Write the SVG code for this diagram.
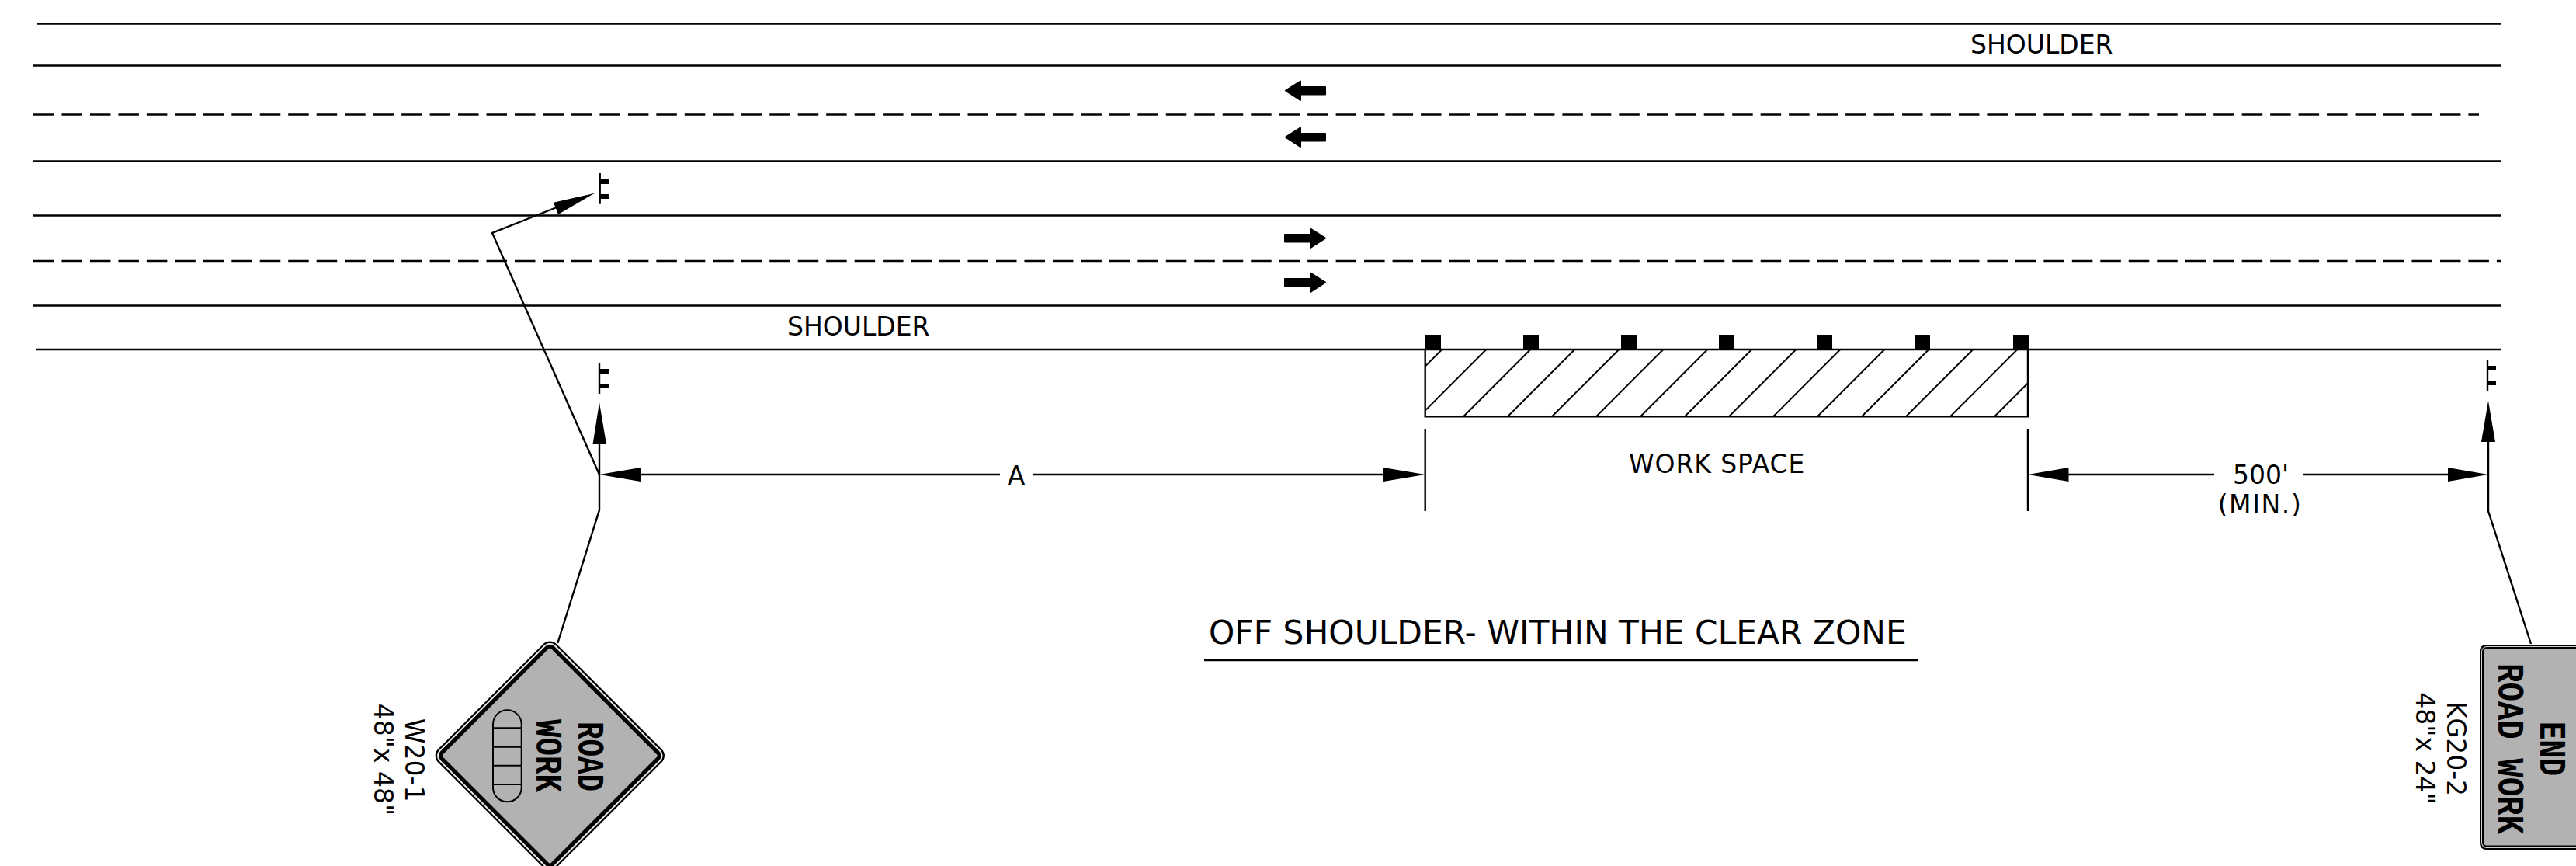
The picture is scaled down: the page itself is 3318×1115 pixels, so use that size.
<svg xmlns="http://www.w3.org/2000/svg" width="3318" height="1115" viewBox="0 0 3318 1115">
<style>
.l{stroke:#000;stroke-width:2.4;fill:none}
.d{stroke:#000;stroke-width:2.4;fill:none;stroke-dasharray:26.5 9.97}
.h{stroke:#000;stroke-width:2;fill:none}
.f{fill:#000;stroke:none}
.a{fill:#000;stroke:#000;stroke-width:2;stroke-linejoin:round}
.t{font-family:"DejaVu Sans",sans-serif;font-size:33px;fill:#000}
.m{text-anchor:middle}
.s{font-family:"Liberation Mono",monospace;font-weight:bold;fill:#000;text-anchor:middle}
.g{fill:#b2b2b2}
</style>
<rect width="3318" height="1115" fill="#fff"/>
<g id="road">
<path class="l" d="M48 30.5H3222M43 84.5H3222M43 207.5H3222M43 277.5H3222M43 393.5H3222M46 450H3221"/>
<path class="d" d="M43 147.5H3193M43 336H3222"/>
<path class="a" d="M1656 116.7L1675 104.5L1675 112H1707V121.5H1675L1675 129Z"/>
<path class="a" d="M1656 176.7L1675 164.5L1675 172H1707V181.5H1675L1675 189Z"/>
<path class="a" d="M1707 306.7L1688 294.5L1688 302H1655V311.5H1688L1688 319Z"/>
<path class="a" d="M1707 363.7L1688 351.5L1688 359H1655V368.5H1688L1688 376Z"/>
<text class="t" x="2538" y="69">SHOULDER</text>
<text class="t" x="1014" y="432">SHOULDER</text>
</g>
<g id="work-space">
<path class="l" d="M1835.7 450V536.3H2612V450"/>
<path class="h" d="M1857.3 450L1835.7 471.6M1914.3 450L1835.7 528.6M1971.3 450L1885 536.3M2028.3 450L1942 536.3M2085.3 450L1999 536.3M2142.3 450L2056 536.3M2199.3 450L2113 536.3M2256.3 450L2170 536.3M2313.3 450L2227 536.3M2370.3 450L2284 536.3M2427.3 450L2341 536.3M2484.3 450L2398 536.3M2541.3 450L2455 536.3M2598.3 450L2512 536.3M2612 493.3L2569 536.3"/>
<rect class="f" x="1836" y="431" width="20" height="20"/>
<rect class="f" x="1962" y="431" width="20" height="20"/>
<rect class="f" x="2088" y="431" width="20" height="20"/>
<rect class="f" x="2214" y="431" width="20" height="20"/>
<rect class="f" x="2340" y="431" width="20" height="20"/>
<rect class="f" x="2466" y="431" width="20" height="20"/>
<rect class="f" x="2593" y="431" width="20" height="20"/>
<text class="t" x="2098" y="609" letter-spacing="0.9">WORK SPACE</text>
</g>
<g id="title">
<text class="t" x="1557" y="829" style="font-size:42.3px" letter-spacing="0.05">OFF SHOULDER- WITHIN THE CLEAR ZONE</text>
<path class="l" d="M1551 850H2471"/>
</g>
<g id="connectors">
<path class="l" d="M772 572V656.7L718.3 828"/>
<path class="l" d="M772 611L634 300L717 267"/>
<path class="f" d="M772 518L781 572H763.5Z"/>
<path class="f" d="M766 248.7L713 260.7L719 276Z"/>
<path class="l" d="M825 611H1288M1330 611H1782"/>
<path class="f" d="M772 611L825 602V620Z"/>
<path class="f" d="M1835.7 611L1782 602V620Z"/>
<path class="l" d="M1835.7 552V658M2612 552V658"/>
<path class="l" d="M2664 611H2852M2966 611H3153"/>
<path class="f" d="M2612 611L2664.5 602V620Z"/>
<path class="f" d="M3205 611L3153 602V620Z"/>
<path class="l" d="M3205 569V658L3260 829"/>
<path class="f" d="M3205 516L3214 569H3196Z"/>
<text class="t m" x="1309" y="624">A</text>
<text class="t m" x="2912" y="623">500'</text>
<text class="t m" x="2911" y="661" letter-spacing="1.6">(MIN.)</text>
</g>
<g id="post-1">
<path class="l" d="M772.7 223V262.7"/>
<path class="f" d="M773 231H785V237H773ZM773 250H785V256H773Z"/>
</g>
<g id="post-2">
<path class="l" d="M772 467V507"/>
<path class="f" d="M772 475H784V481H772ZM772 494H784V500H772Z"/>
</g>
<g id="post-3">
<path class="l" d="M3204 463V503"/>
<path class="f" d="M3204 471H3215V477H3204ZM3204 490H3215V496H3204Z"/>
</g>
<g id="sign-w20-1">
<g transform="rotate(45 708.3 973)">
<rect class="f" x="600.4" y="865.1" width="215.8" height="215.8" rx="12"/>
<rect x="602.6" y="867.3" width="211.4" height="211.4" rx="10" fill="#e8e8e8"/>
<rect class="f" x="604.6" y="869.3" width="207.4" height="207.4" rx="8"/>
<rect class="g" x="609.8" y="874.5" width="197" height="197" rx="2"/>
</g>
<rect x="635" y="914.3" width="36.7" height="118" rx="18.3" class="l" style="stroke-width:2"/>
<path class="l" style="stroke-width:2" d="M635 937.3H671.7M635 961.7H671.7M635 985.7H671.7M635 1010H671.7"/>
<text class="s" transform="translate(745 974) rotate(90)" font-size="48" textLength="90" lengthAdjust="spacingAndGlyphs">ROAD</text>
<text class="s" transform="translate(691 973) rotate(90)" font-size="48" textLength="94" lengthAdjust="spacingAndGlyphs">WORK</text>
<text class="t m" transform="translate(521.7 978.7) rotate(90)">W20-1</text>
<text class="t m" transform="translate(481.7 978) rotate(90)">48"x 48"</text>
</g>
<g id="sign-kg20-2">
<rect class="f" x="3194" y="830" width="150" height="264" rx="8"/>
<rect x="3196" y="832" width="150" height="260" rx="7" fill="#d0d0d0"/>
<rect class="f" x="3197" y="833" width="150" height="258" rx="6"/>
<rect class="g" x="3200" y="835.5" width="150" height="253" rx="2"/>
<text class="s" transform="translate(3218.3 964) rotate(90)" font-size="48" textLength="220" lengthAdjust="spacingAndGlyphs">ROAD WORK</text>
<text class="s" transform="translate(3271.7 964) rotate(90)" font-size="48" textLength="70" lengthAdjust="spacingAndGlyphs">END</text>
<text class="t m" transform="translate(3151.7 964) rotate(90)">KG20-2</text>
<text class="t m" transform="translate(3111.7 963.5) rotate(90)">48"x 24"</text>
</g>
</svg>
